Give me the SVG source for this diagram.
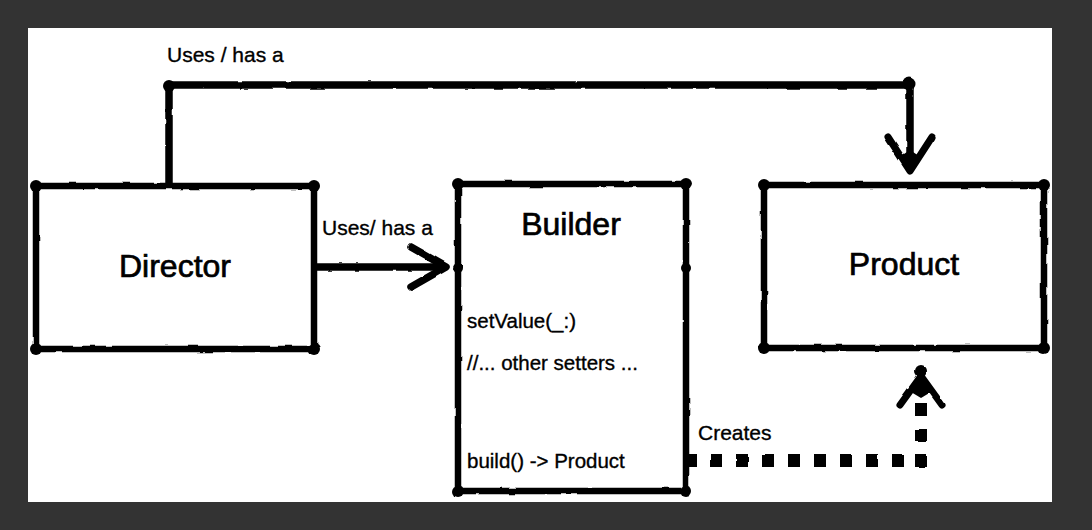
<svg xmlns="http://www.w3.org/2000/svg" width="1092" height="530" viewBox="0 0 1092 530">
<defs>
<filter id="rough" x="-5%" y="-5%" width="110%" height="110%">
<feTurbulence type="fractalNoise" baseFrequency="0.06" numOctaves="2" seed="3" result="n"/>
<feDisplacementMap in="SourceGraphic" in2="n" scale="2.5" xChannelSelector="R" yChannelSelector="G"/>
</filter>
<style>
.box{fill:#fff;stroke:#000;stroke-width:6.5;stroke-linejoin:round}
.ln{fill:none;stroke:#000;stroke-width:7.5;stroke-linecap:round;stroke-linejoin:round}
.head{fill:none;stroke:#000;stroke-width:7;stroke-linecap:round;stroke-linejoin:round}
.dot{fill:#000}
.t{font-family:"Liberation Sans",Arial,sans-serif;fill:#000;stroke:#000}
.big{font-size:32px;text-anchor:middle;stroke-width:0.7}
.lbl{font-size:21px;stroke-width:0.35}
.m{font-size:20.5px;stroke-width:0.35}
</style>
</defs>
<rect width="1092" height="530" fill="#333333"/>
<rect x="28" y="28" width="1024" height="474" fill="#ffffff"/>

<g id="connectors" filter="url(#rough)">
<g id="director-product">
<path class="ln" d="M169,183 V85 H910 V158"/>
<circle class="dot" cx="169" cy="86" r="6"/>
<circle class="dot" cx="909" cy="84" r="6.5"/>
<path class="head" d="M888,137 L910,171 L932,137"/>
<path class="dot" d="M910,174 L901,156 L910,150 L919,156 Z"/>
</g>
<g id="director-builder">
<path class="ln" d="M315,267 H440"/>
<path class="ln" d="M411,247 L446,267 L411,287" stroke-width="8"/>
</g>
<g id="builder-product" class="dot">
<rect x="687" y="454" width="10" height="13"/>
<rect x="710" y="454" width="12" height="13"/>
<rect x="736" y="454" width="12" height="13"/>
<rect x="762" y="454" width="12" height="13"/>
<rect x="788" y="454" width="12" height="13"/>
<rect x="814" y="454" width="12" height="13"/>
<rect x="840" y="454" width="12" height="13"/>
<rect x="866" y="454" width="12" height="13"/>
<rect x="892" y="454" width="12" height="13"/>
<rect x="915" y="454" width="12" height="13"/>
<rect x="915" y="429" width="12" height="13"/>
<rect x="915" y="403" width="12" height="13"/>
<circle cx="921" cy="371" r="6"/>
<path class="head" d="M900,405 L921,376 L942,405"/>
<path d="M921,374 L911,392 L921,398 L931,392 Z"/>
</g>
</g>

<g id="director">
<rect class="box" x="36" y="186" width="278" height="163" filter="url(#rough)"/>
<g class="dot" filter="url(#rough)"><circle cx="36" cy="186" r="6"/><circle cx="314" cy="186" r="6"/><circle cx="36" cy="349" r="6"/><circle cx="314" cy="349" r="6"/></g>
<text class="t big" x="175" y="277">Director</text>
</g>

<g id="builder">
<rect class="box" x="458" y="184" width="228" height="307" filter="url(#rough)"/>
<path class="ln" d="M458,268 H686" stroke-width="6" filter="url(#rough)"/>
<g class="dot" filter="url(#rough)"><circle cx="458" cy="184" r="6"/><circle cx="686" cy="184" r="6"/><circle cx="458" cy="491" r="6"/><circle cx="686" cy="491" r="6"/><circle cx="458" cy="268" r="5"/><circle cx="686" cy="268" r="5"/></g>
<text class="t big" x="571" y="235">Builder</text>
<text class="t m" x="467" y="328">setValue(_:)</text>
<text class="t m" x="467" y="370">//... other setters ...</text>
<text class="t m" x="467" y="468">build() -&gt; Product</text>
</g>

<g id="product">
<rect class="box" x="764" y="185" width="280" height="163" filter="url(#rough)"/>
<g class="dot" filter="url(#rough)"><circle cx="764" cy="185" r="6"/><circle cx="1044" cy="185" r="6"/><circle cx="764" cy="348" r="6"/><circle cx="1044" cy="348" r="6"/></g>
<text class="t big" x="904" y="275">Product</text>
</g>

<g id="labels">
<text class="t lbl" x="167" y="62">Uses / has a</text>
<text class="t lbl" x="322" y="235">Uses/ has a</text>
<text class="t lbl" x="698" y="440">Creates</text>
</g>
</svg>
